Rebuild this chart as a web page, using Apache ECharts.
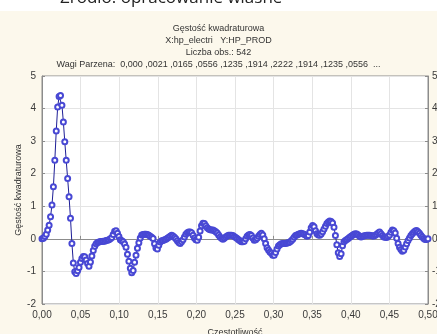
<!DOCTYPE html>
<html>
<head>
<meta charset="utf-8">
<script src="https://cdn.jsdelivr.net/npm/echarts@6/dist/echarts.min.js"></script>
<style>
  html, body { margin: 0; padding: 0; background: #ffffff; }
  #chart { width: 437px; height: 334px; }
</style>
</head>
<body>
<div id="chart"></div>
<script>
// Header text above the plot
const sourceNote = 'Źródło: opracowanie własne';
const titleLines = [
  'Gęstość kwadraturowa',
  'X:hp_electri   Y:HP_PROD',
  'Liczba obs.: 542',
  'Wagi Parzena:  0,000 ,0021 ,0165 ,0556 ,1235 ,1914 ,2222 ,1914 ,1235 ,0556  ...'
];
const xAxisTitle = 'Częstotliwość';
const yAxisTitle = 'Gęstość kwadraturowa';

// Tick labels (Polish decimal comma)
const xTickLabels = ['0,00', '0,05', '0,10', '0,15', '0,20', '0,25', '0,30', '0,35', '0,40', '0,45', '0,50'];
const yTickLabels = ['-2', '-1', '0', '1', '2', '3', '4', '5'];

// Number of observations: frequencies are k / nObs, k = 0 .. nObs/2
const nObs = 542;

// Quadrature spectral density, one value per Fourier frequency
const gestosc = [
  0.00, 0.02, 0.07, 0.14, 0.27, 0.42, 0.68, 1.04, 1.60, 2.41,
  3.31, 4.05, 4.37, 4.40, 4.10, 3.59, 2.98, 2.41, 1.85, 1.29,
  0.63, -0.14, -0.74, -1.01, -1.06, -0.98,
  -0.88, -0.72, -0.60, -0.54, -0.55, -0.65, -0.76, -0.84, -0.71,
  -0.53, -0.36, -0.23, -0.15, -0.11, -0.10, -0.08, -0.08, -0.07, -0.07,
  -0.05, -0.04, -0.03, 0.00, 0.04, 0.13, 0.23, 0.25, 0.17, 0.07,
  -0.03, -0.06, -0.09, -0.16, -0.26, -0.47, -0.69, -0.90, -1.04, -0.97,
  -0.72, -0.50, -0.29, -0.12, 0.03, 0.12, 0.13, 0.14, 0.14, 0.13,
  0.11, 0.08, 0.05, 0.01, -0.15, -0.28, -0.31, -0.20, -0.10, -0.06,
  -0.05, -0.03, -0.01, 0.02, 0.05, 0.08, 0.11, 0.09, 0.05, 0.00,
  -0.06, -0.11, -0.14, -0.09, -0.03, 0.06, 0.14, 0.19, 0.21, 0.21,
  0.19, 0.11, 0.03, -0.03, -0.04, 0.05, 0.24, 0.40, 0.48, 0.47,
  0.40, 0.34, 0.30, 0.28, 0.27, 0.27, 0.25, 0.22, 0.18, 0.12,
  0.06, 0.02, -0.01, 0.02, 0.06, 0.09, 0.11, 0.11, 0.11, 0.10,
  0.07, 0.04, 0.01, -0.03, -0.06, -0.09, -0.09, -0.07, 0.00, 0.08,
  0.12, 0.13, 0.10, 0.03, -0.04, -0.03, 0.02, 0.08, 0.13, 0.17,
  0.12, 0.00, -0.14, -0.27, -0.34, -0.40, -0.44, -0.50, -0.50, -0.42,
  -0.31, -0.22, -0.18, -0.15, -0.14, -0.14, -0.14, -0.13, -0.12, -0.10,
  -0.06, -0.01, 0.05, 0.10, 0.12, 0.14, 0.16, 0.17, 0.16, 0.14,
  0.12, 0.08, 0.10, 0.21, 0.34, 0.41, 0.37, 0.25, 0.16, 0.12,
  0.11, 0.15, 0.22, 0.30, 0.39, 0.47, 0.52, 0.55, 0.53, 0.49,
  0.36, 0.10, -0.18, -0.43, -0.54, -0.46, -0.21, -0.09, -0.05, -0.02,
  0.01, 0.05, 0.08, 0.11, 0.14, 0.16, 0.15, 0.12, 0.08, 0.06,
  0.08, 0.09, 0.10, 0.11, 0.11, 0.11, 0.10, 0.09, 0.09, 0.11,
  0.14, 0.18, 0.21, 0.16, 0.10, 0.06, 0.05, 0.04, 0.07, 0.12,
  0.20, 0.27, 0.25, 0.18, 0.02, -0.14, -0.26, -0.33, -0.38, -0.35,
  -0.25, -0.15, -0.05, 0.03, 0.10, 0.16, 0.20, 0.24, 0.26, 0.22,
  0.17, 0.11, 0.06, 0.01, -0.02, -0.02, 0.00
];

const points = gestosc.map((v, k) => [k / nObs, v]);

const font = 'Liberation Sans, Arial, sans-serif';
const xFmt = v => xTickLabels[Math.round(v / 0.05)] || '';
const yFmt = v => yTickLabels[Math.round(v) + 2] || '';

const yAxisBase = {
  type: 'value', min: -2, max: 5, interval: 1,
  axisLine: { show: true, lineStyle: { color: '#8c8c8c' } },
  axisTick: { show: true, inside: true, length: 3, lineStyle: { color: '#8c8c8c' } },
  axisLabel: { fontSize: 10, color: '#3a3a3a', fontFamily: font, formatter: yFmt }
};

const chart = echarts.init(document.getElementById('chart'), null, { renderer: 'canvas' });
chart.setOption({
  animation: false,
  backgroundColor: '#fcf8ec',
  graphic: [
    { type: 'rect', shape: { x: 0, y: 0, width: 437, height: 11 }, style: { fill: '#ffffff' }, silent: true },
    { type: 'text', x: 60, y: 7, style: { text: sourceNote, font: '17px "Open Sans", sans-serif', fill: '#222', verticalAlign: 'bottom' }, silent: true }
  ],
  title: {
    text: titleLines.join('\n'),
    left: 'center',
    top: 18,
    textStyle: { fontSize: 9, lineHeight: 12, fontWeight: 'normal', color: '#333', fontFamily: font }
  },
  grid: {
    left: 42, right: 9, top: 76, bottom: 30,
    outerBoundsMode: 'none',
    containLabel: false,
    show: true, backgroundColor: '#ffffff', borderColor: '#8c8c8c', borderWidth: 1
  },
  xAxis: {
    type: 'value', min: 0, max: 0.5, interval: 0.05,
    name: xAxisTitle, nameLocation: 'middle', nameGap: 24,
    nameTextStyle: { fontSize: 9, color: '#333', fontFamily: font },
    axisLine: { show: true, lineStyle: { color: '#8c8c8c' } },
    axisTick: { show: true, inside: true, length: 3, lineStyle: { color: '#8c8c8c' } },
    splitLine: { show: true, lineStyle: { color: '#e4e4e4' } },
    axisLabel: { fontSize: 10, color: '#3a3a3a', margin: 6, fontFamily: font, formatter: xFmt }
  },
  yAxis: [
    Object.assign({}, yAxisBase, {
      position: 'left',
      name: yAxisTitle, nameLocation: 'middle', nameGap: 19,
      nameMoveOverlap: false,
      nameTextStyle: { fontSize: 9, color: '#333', fontFamily: font },
      splitLine: { show: true, lineStyle: { color: '#e4e4e4' } },
      axisLabel: Object.assign({}, yAxisBase.axisLabel, { margin: 6 })
    }),
    Object.assign({}, yAxisBase, {
      position: 'right',
      splitLine: { show: false },
      axisLabel: Object.assign({}, yAxisBase.axisLabel, { margin: 4 })
    })
  ],
  series: [{
    type: 'line',
    data: points,
    yAxisIndex: 0,
    symbol: 'emptyCircle',
    symbolSize: 5,
    showAllSymbol: true,
    lineStyle: { color: '#1e1e96', width: 1 },
    itemStyle: { color: '#4848d4', borderWidth: 0.9 }
  }]
});
</script>
</body>
</html>
